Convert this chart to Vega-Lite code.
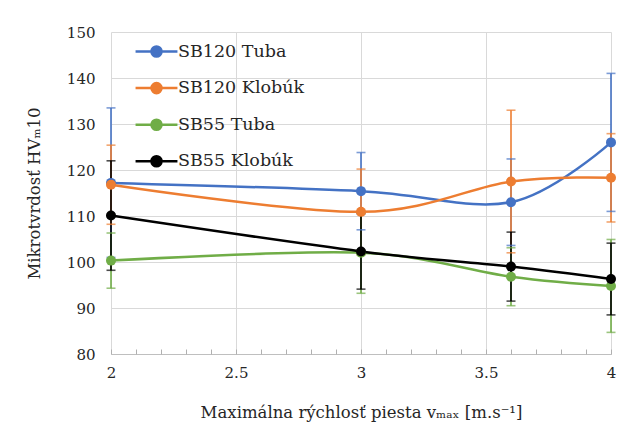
{
  "$schema": "https://vega.github.io/schema/vega-lite/v6.json",
  "width": 500,
  "height": 322,
  "autosize": "none",
  "padding": {"left": 111, "top": 32, "right": 13, "bottom": 85},
  "background": "white",
  "config": {"font": "DejaVu Serif", "view": {"stroke": null}},
  "resolve": {"axis": {"x": "independent"}},
  "data": {"values": [
    {"s": "SB120 Tuba", "o": 1, "x": 2, "y": 117.2, "lo": 101.0, "hi": 133.5},
    {"s": "SB120 Tuba", "o": 1, "x": 3, "y": 115.4, "lo": 107.0, "hi": 123.8},
    {"s": "SB120 Tuba", "o": 1, "x": 3.6, "y": 113.0, "lo": 103.6, "hi": 122.4},
    {"s": "SB120 Tuba", "o": 1, "x": 4, "y": 126.0, "lo": 111.0, "hi": 141.0},
    {"s": "SB120 Klobúk", "o": 2, "x": 2, "y": 116.8, "lo": 108.2, "hi": 125.4},
    {"s": "SB120 Klobúk", "o": 2, "x": 3, "y": 110.9, "lo": 101.6, "hi": 120.2},
    {"s": "SB120 Klobúk", "o": 2, "x": 3.6, "y": 117.5, "lo": 102.0, "hi": 133.0},
    {"s": "SB120 Klobúk", "o": 2, "x": 4, "y": 118.3, "lo": 108.7, "hi": 127.9},
    {"s": "SB55 Tuba", "o": 3, "x": 2, "y": 100.3, "lo": 94.3, "hi": 106.3},
    {"s": "SB55 Tuba", "o": 3, "x": 3, "y": 102.0, "lo": 93.2, "hi": 110.8},
    {"s": "SB55 Tuba", "o": 3, "x": 3.6, "y": 96.8, "lo": 90.5, "hi": 103.1},
    {"s": "SB55 Tuba", "o": 3, "x": 4, "y": 94.8, "lo": 84.7, "hi": 104.9},
    {"s": "SB55 Klobúk", "o": 4, "x": 2, "y": 110.1, "lo": 98.2, "hi": 122.0},
    {"s": "SB55 Klobúk", "o": 4, "x": 3, "y": 102.3, "lo": 94.1, "hi": 110.5},
    {"s": "SB55 Klobúk", "o": 4, "x": 3.6, "y": 99.0, "lo": 91.5, "hi": 106.5},
    {"s": "SB55 Klobúk", "o": 4, "x": 4, "y": 96.3, "lo": 88.5, "hi": 104.1}
  ]},
  "encoding": {
    "color": {
      "field": "s", "type": "nominal",
      "scale": {"domain": ["SB120 Tuba", "SB120 Klobúk", "SB55 Tuba", "SB55 Klobúk"], "range": ["#4472C4", "#ED7D31", "#70AD47", "#000000"]},
      "legend": {
        "title": null, "orient": "none", "legendX": 30, "legendY": 4,
        "symbolType": "M-1.5,0H1.5M0.36,0A0.36,0.36 0 1,1 -0.36,0A0.36,0.36 0 1,1 0.36,0Z",
        "symbolSize": 780, "symbolStrokeWidth": 2.5, "symbolOpacity": 1,
        "labelFont": "DejaVu Serif", "labelFontSize": 17.5, "labelColor": "#262626", "labelOffset": 6,
        "rowPadding": 10.6
      }
    }
  },
  "layer": [
    {
      "mark": {"type": "rule", "strokeWidth": 1.6},
      "encoding": {
        "x": {
          "field": "x", "type": "quantitative",
          "scale": {"domain": [2, 4], "nice": false, "zero": false},
          "axis": {
            "title": "Maximálna rýchlosť piesta vₘₐₓ [m.s⁻¹]",
            "titleFont": "DejaVu Serif", "titleFontSize": 16.5, "titleFontWeight": "normal", "titleColor": "#262626", "titlePadding": 24,
            "values": [2, 2.5, 3, 3.5, 4],
            "format": "~g",
            "labelFont": "DejaVu Serif", "labelFontSize": 15, "labelColor": "#262626", "labelPadding": 11,
            "labelFlush": false, "labelOverlap": false,
            "domainColor": "#bfbfbf", "domainWidth": 1,
            "ticks": false,
            "grid": true, "gridColor": "#d9d9d9"
          }
        },
        "y": {"field": "lo", "type": "quantitative"}, "y2": {"field": "hi"}
      }
    },
    {
      "mark": {"type": "tick", "orient": "horizontal", "size": 9, "thickness": 1.6},
      "encoding": {
        "x": {
          "field": "x", "type": "quantitative",
          "axis": {
            "orient": "bottom", "title": null, "labels": false, "domain": false, "grid": false,
            "values": [2, 2.1, 2.2, 2.3, 2.4, 2.5, 2.6, 2.7, 2.8, 2.9, 3, 3.1, 3.2, 3.3, 3.4, 3.5, 3.6, 3.7, 3.8, 3.9, 4],
            "ticks": true, "tickSize": -5, "tickColor": "#b0b0b0", "tickWidth": 1
          }
        },
        "y": {"field": "lo", "type": "quantitative"}
      }
    },
    {
      "mark": {"type": "tick", "orient": "horizontal", "size": 9, "thickness": 1.6},
      "encoding": {
        "x": {"field": "x", "type": "quantitative", "axis": null},
        "y": {"field": "hi", "type": "quantitative"}
      }
    },
    {
      "mark": {"type": "line", "interpolate": "cardinal", "strokeWidth": 2.5, "point": {"filled": true, "size": 100, "opacity": 1}},
      "encoding": {
        "x": {"field": "x", "type": "quantitative", "axis": null},
        "y": {
          "field": "y", "type": "quantitative",
          "scale": {"domain": [80, 150], "nice": false, "zero": false},
          "axis": {
            "title": "Mikrotvrdosť HVₘ10",
            "titleFont": "DejaVu Serif", "titleFontSize": 16.5, "titleFontWeight": "normal", "titleColor": "#262626", "titlePadding": 24,
            "values": [80, 90, 100, 110, 120, 130, 140, 150],
            "labelFont": "DejaVu Serif", "labelFontSize": 15, "labelColor": "#262626", "labelPadding": 16,
            "ticks": false, "domain": false, "grid": true, "gridColor": "#d9d9d9"
          }
        },
        "order": {"field": "x"}
      }
    }
  ]
}
